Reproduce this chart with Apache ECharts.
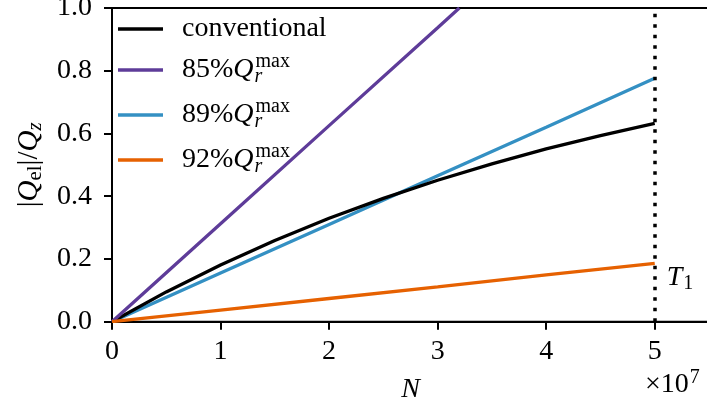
<!DOCTYPE html>
<html>
<head>
<meta charset="utf-8">
<script src="https://cdn.jsdelivr.net/npm/echarts@6/dist/echarts.min.js"></script>
<style>
  html, body { margin: 0; padding: 0; background: #ffffff; }
  #chart { width: 707px; height: 405px; }
</style>
</head>
<body>
<div id="chart"></div>
<script>
// Number of pulses N, in units of 1e7
const xTickValues = [0, 1, 2, 3, 4, 5];
const yTickValues = [0.0, 0.2, 0.4, 0.6, 0.8, 1.0];

// conventional scheme (saturating curve)
const nConventional = [0, 0.5, 1, 1.5, 2, 2.5, 3, 3.5, 4, 4.5, 5];
const qConventional = [0, 0.095, 0.181, 0.259, 0.330, 0.393, 0.451, 0.503, 0.551, 0.593, 0.632];

// 85% of Q_r^max
const n85 = [0, 1, 2, 3, 3.2];
const q85 = [0, 0.312, 0.625, 0.937, 1.0];

// 89% of Q_r^max
const n89 = [0, 1, 2, 3, 4, 5];
const q89 = [0, 0.155, 0.310, 0.465, 0.620, 0.776];

// 92% of Q_r^max
const n92 = [0, 1, 2, 3, 4, 5];
const q92 = [0, 0.037, 0.074, 0.111, 0.149, 0.186];

// T1 marker position on the N axis and height of its label
const t1N = 5;
const t1LabelQ = 0.14;

const seriesNames = ['conventional', '85', '89', '92'];
const seriesColors = ['#000000', '#5e3c99', '#3490c3', '#e66101'];

const FONT = '"Liberation Serif", "DejaVu Serif", serif';
const FS = 28;
const SFS = 20;

function pairs(xs, ys) { return xs.map((x, i) => [x, ys[i]]); }

const mainRich = {
  t: { fontFamily: FONT, fontSize: FS, color: '#000', lineHeight: 34 },
  q: { fontFamily: FONT, fontSize: FS, color: '#000', fontStyle: 'italic', lineHeight: 34 },
  r: { fontFamily: FONT, fontSize: SFS, color: '#000', fontStyle: 'italic', lineHeight: 34, width: 0.01, padding: [13, 0, 0, 1] },
  m: { fontFamily: FONT, fontSize: SFS, color: '#000', lineHeight: 34, padding: [0, 0, 16, 1] }
};

const chart = echarts.init(document.getElementById('chart'), null, { renderer: 'canvas' });

function lineSeries(name, data, color) {
  return {
    name: name,
    type: 'line',
    data: data,
    showSymbol: false,
    symbol: 'none',
    lineStyle: { color: color, width: 3.3 },
    itemStyle: { color: color },
    clip: true,
    animation: false
  };
}

const option = {
  animation: false,
  backgroundColor: '#ffffff',
  grid: {
    left: 112, top: 8, width: 597, height: 313.7,
    outerBoundsMode: 'none',
    containLabel: false,
    show: true, borderColor: '#000', borderWidth: 2, backgroundColor: 'transparent'
  },
  legend: {
    orient: 'vertical',
    left: 118, top: 15,
    padding: 0,
    itemGap: 9,
    itemWidth: 45,
    itemHeight: 3.5,
    icon: 'rect',
    data: seriesNames,
    formatter: function (name) {
      if (name === 'conventional') return '{t|conventional}';
      return '{t|' + name + '%}{q|Q}{r|r}{m|max}';
    },
    textStyle: { rich: mainRich, padding: [0, 0, 0, 14] }
  },
  xAxis: {
    type: 'value', min: 0, max: 5.5, interval: 1,
    name: 'N',
    nameLocation: 'middle',
    nameGap: 54,
    nameTextStyle: { fontFamily: FONT, fontSize: FS, fontStyle: 'italic', color: '#000' },
    axisLine: { show: true, lineStyle: { color: '#000', width: 2 } },
    axisTick: { show: true, inside: false, length: 8, lineStyle: { color: '#000', width: 2 } },
    axisLabel: {
      fontFamily: FONT, fontSize: FS, color: '#000', margin: 16,
      showMaxLabel: false,
      formatter: v => (xTickValues.includes(v) ? String(v) : '')
    },
    splitLine: { show: false }
  },
  yAxis: {
    type: 'value', min: 0, max: 1, interval: 0.2,
    name: '{b||}{q|Q}{s|el}{b||/}{q|Q}{z|z}',
    nameLocation: 'middle',
    nameRotate: 90,
    nameGap: 62,
    nameTextStyle: {
      rich: {
        b: { fontFamily: FONT, fontSize: 29, color: '#000', lineHeight: 36 },
        q: { fontFamily: FONT, fontSize: 29, color: '#000', fontStyle: 'italic', lineHeight: 36 },
        s: { fontFamily: FONT, fontSize: 21, color: '#000', lineHeight: 36, padding: [12, 0, 0, 0] },
        z: { fontFamily: FONT, fontSize: 21, color: '#000', fontStyle: 'italic', lineHeight: 36, padding: [12, 0, 0, 0] }
      }
    },
    axisLine: { show: true, lineStyle: { color: '#000', width: 2 } },
    axisTick: { show: true, inside: false, length: 8, lineStyle: { color: '#000', width: 2 } },
    axisLabel: {
      fontFamily: FONT, fontSize: FS, color: '#000', margin: 20,
      formatter: v => (yTickValues.some(t => Math.abs(t - v) < 1e-9) ? v.toFixed(1) : '')
    },
    splitLine: { show: false }
  },
  graphic: [
    {
      type: 'text',
      left: 645, top: 368,
      style: {
        text: '{a|\u00d710}{s|7}',
        rich: {
          a: { fontFamily: FONT, fontSize: FS, fill: '#000', lineHeight: 34 },
          s: { fontFamily: FONT, fontSize: SFS, fill: '#000', lineHeight: 34, padding: [0, 0, 14, 1] }
        }
      }
    }
  ],
  series: [
    lineSeries('89', pairs(n89, q89), seriesColors[2]),
    lineSeries('conventional', pairs(nConventional, qConventional), seriesColors[0]),
    lineSeries('85', pairs(n85, q85), seriesColors[1]),
    Object.assign(lineSeries('92', pairs(n92, q92), seriesColors[3]), {
      markLine: {
        silent: true,
        symbol: 'none',
        label: { show: false },
        lineStyle: { color: '#000', width: 3.5, type: [3.5, 7] },
        data: [{ xAxis: t1N }]
      },
      markPoint: {
        silent: true,
        symbol: 'circle',
        symbolSize: 0,
        data: [{ coord: [t1N, t1LabelQ] }],
        label: {
          show: true,
          position: 'right',
          distance: 12,
          formatter: '{t|T}{s|1}',
          rich: {
            t: { fontFamily: FONT, fontSize: FS, color: '#000', fontStyle: 'italic', lineHeight: 34 },
            s: { fontFamily: FONT, fontSize: SFS, color: '#000', lineHeight: 34, padding: [12, 0, 0, 1] }
          }
        }
      }
    })
  ]
};

chart.setOption(option);
</script>
</body>
</html>
